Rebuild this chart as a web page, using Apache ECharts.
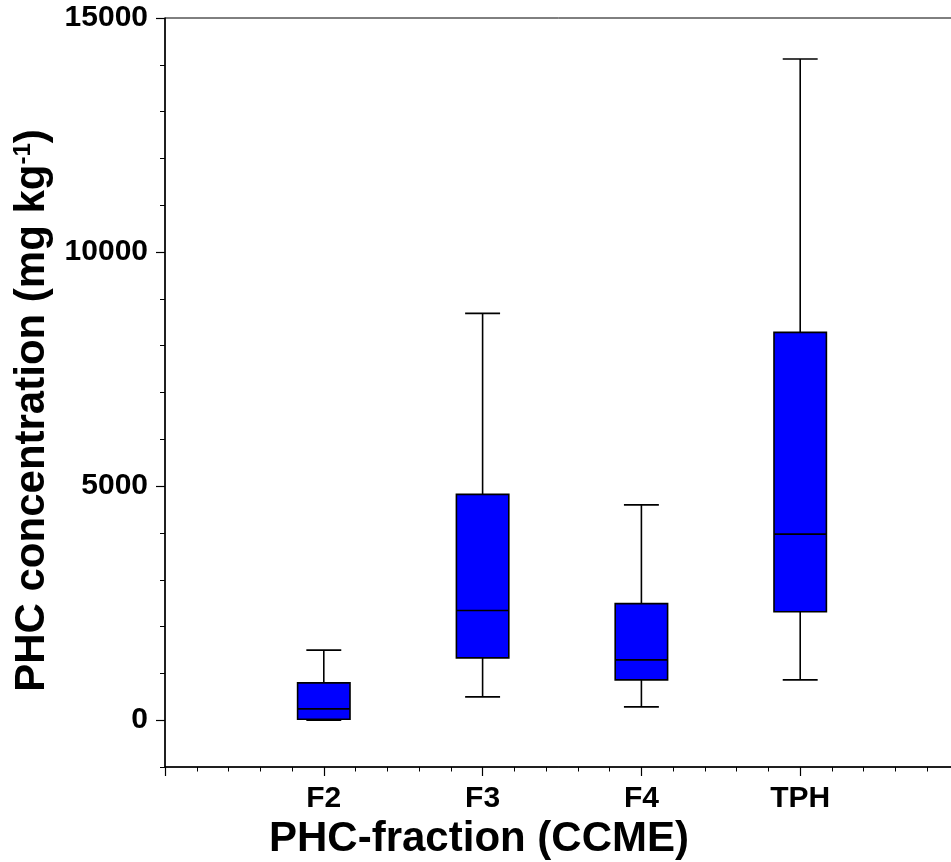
<!DOCTYPE html>
<html>
<head>
<meta charset="utf-8">
<script src="https://cdn.jsdelivr.net/npm/echarts@6/dist/echarts.min.js"></script>
<style>html,body{margin:0;padding:0;background:#fff}#c{width:951px;height:862px}</style>
</head>
<body>
<div id="c"></div>
<script>
const categories = ['F2', 'F3', 'F4', 'TPH'];
const whiskerLow = [0, 498, 284, 861];
const q1 = [21, 1331, 861, 2316];
const median = [241, 2344, 1288, 3974];
const q3 = [797, 4823, 2491, 8285];
const whiskerHigh = [1496, 8690, 4600, 14124];
const yTickLabels = [0, 5000, 10000, 15000];

const FONT = 'Liberation Sans, Arial, sans-serif';
const data = categories.map((c, i) => [i + 1, whiskerLow[i], q1[i], median[i], q3[i], whiskerHigh[i]]);

const chart = echarts.init(document.getElementById('c'));
chart.setOption({
  animation: false,
  grid: { left: 165, top: 18, right: -8, bottom: 95, containLabel: false, outerBoundsMode: 'none',
          show: true, borderColor: '#000', borderWidth: 1, backgroundColor: 'transparent' },
  xAxis: [{
    type: 'value', min: 0, max: 5, interval: 1,
    axisLine: { onZero: false, lineStyle: { color: '#000', width: 1.5 } },
    axisTick: { length: 9, lineStyle: { color: '#000', width: 1.2 } },
    minorTick: { show: true, splitNumber: 5, length: 4.5, lineStyle: { color: '#000', width: 1 } },
    splitLine: { show: false },
    axisLabel: { margin: 17, color: '#000', fontFamily: FONT, fontWeight: 'bold', fontSize: 30,
      formatter: v => (v >= 1 && v <= categories.length && Number.isInteger(v)) ? categories[v - 1] : '' },
    name: 'PHC-fraction (CCME)', nameLocation: 'middle', nameGap: 42,
    nameTextStyle: { color: '#000', fontFamily: FONT, fontWeight: 'bold', fontSize: 42, padding: [0, 166, 0, 0] }
  }],
  yAxis: [{
    type: 'value', min: -1000, max: 15000,
    axisLine: { onZero: false, lineStyle: { color: '#000', width: 1.5 } },
    axisTick: { length: 9, customValues: yTickLabels, lineStyle: { color: '#000', width: 1.2 } },
    splitLine: { show: false },
    axisLabel: { margin: 17, customValues: yTickLabels, color: '#000', fontFamily: FONT, fontWeight: 'bold', fontSize: 30,
      formatter: v => String(v) },
    name: '{a|PHC concentration (mg kg}{s|-1}{a|)}', nameLocation: 'middle', nameGap: 112,
    nameTextStyle: { color: '#000', padding: [0, 36, 0, 0], rich: {
      a: { fontFamily: FONT, fontWeight: 'bold', fontSize: 42, color: '#000' },
      s: { fontFamily: FONT, fontWeight: 'bold', fontSize: 24, color: '#000', verticalAlign: 'top' }
    } }
  }, {
    type: 'value', min: -1000, max: 15000, interval: 1000, position: 'left',
    axisLine: { show: false },
    axisTick: { show: true, length: 5, lineStyle: { color: '#000', width: 1 } },
    axisLabel: { show: false }, splitLine: { show: false }
  }],
  series: [{
    type: 'custom',
    xAxisIndex: 0, yAxisIndex: 0,
    data: data,
    renderItem: function (params, api) {
      const x = api.value(0);
      const lo = api.coord([x, api.value(1)]);
      const b1 = api.coord([x, api.value(2)]);
      const md = api.coord([x, api.value(3)]);
      const b3 = api.coord([x, api.value(4)]);
      const hi = api.coord([x, api.value(5)]);
      const boxW = api.size([0.33, 0])[0];
      const capW = api.size([0.22, 0])[0];
      const ls = { stroke: '#000', lineWidth: 1.6 };
      const cx = lo[0];
      return {
        type: 'group',
        children: [
          { type: 'line', shape: { x1: cx, y1: hi[1], x2: cx, y2: b3[1] }, style: ls },
          { type: 'line', shape: { x1: cx - capW / 2, y1: hi[1], x2: cx + capW / 2, y2: hi[1] }, style: ls },
          { type: 'line', shape: { x1: cx, y1: b1[1], x2: cx, y2: lo[1] }, style: ls },
          { type: 'line', shape: { x1: cx - capW / 2, y1: lo[1], x2: cx + capW / 2, y2: lo[1] }, style: ls },
          { type: 'rect', shape: { x: cx - boxW / 2, y: b3[1], width: boxW, height: b1[1] - b3[1] },
            style: { fill: '#0000FF', stroke: '#000', lineWidth: 1.6 } },
          { type: 'line', shape: { x1: cx - boxW / 2, y1: md[1], x2: cx + boxW / 2, y2: md[1] }, style: ls }
        ]
      };
    }
  }]
});
</script>
</body>
</html>
